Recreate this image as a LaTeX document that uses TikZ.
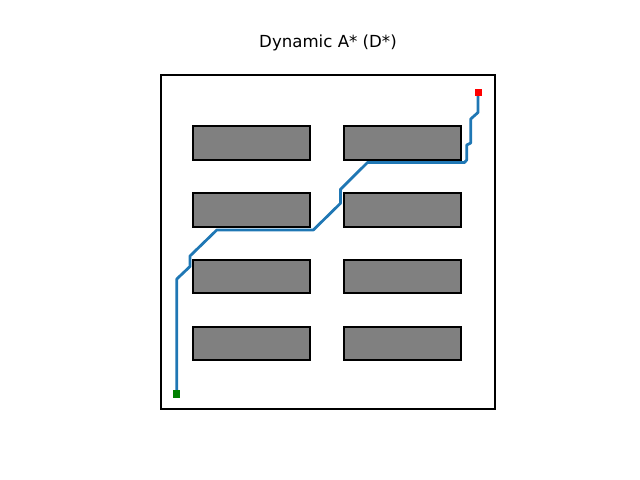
\documentclass[tikz,border=0pt]{standalone}
\usepackage{fontspec}
\setmainfont{DejaVu Sans}
\definecolor{mplblue}{HTML}{1F77B4}
\definecolor{obsgray}{HTML}{808080}
\definecolor{mplgreen}{HTML}{008000}
\begin{document}
\begin{tikzpicture}[x=0.01in,y=-0.01in,
  obstacle/.style={draw=black,fill=obsgray,line width=0.8pt},
  frame/.style={draw=black,line width=2.1pt},
  route/.style={draw=mplblue,line width=2pt,line join=round},
  marker/.style={minimum size=0.07in,inner sep=0pt,draw=none}]
\useasboundingbox (0,0) rectangle (640,480);
\node (title) at (328,43) {\fontsize{12}{14}\selectfont Dynamic A* (D*)};
\draw[frame] (161,75) rectangle (495,409);
% obstacles
\foreach \y/\h in {126/160,193/227,260/293,327/360}{
  \draw[obstacle] (193,\y) rectangle (310,\h);
  \draw[obstacle] (344,\y) rectangle (461,\h);
}
\coordinate (start) at (176.8,394);
\coordinate (goal) at (478,93);
\draw[route] (start) -- (176.8,279) -- (190,266.5) -- (190,256) -- (216.8,230) -- (313.3,230)
  -- (340.5,203.3) -- (340.5,189.3) -- (367.5,162.5) -- (464.5,162.5) -- (466.7,160) -- (466.7,145)
  -- (470.7,143) -- (470.7,119) -- (478,112.5) -- (goal);
\node[marker,fill=mplgreen] (s) at (start) {};
\node[marker,fill=red] (g) at (goal) {};
\end{tikzpicture}
\end{document}
